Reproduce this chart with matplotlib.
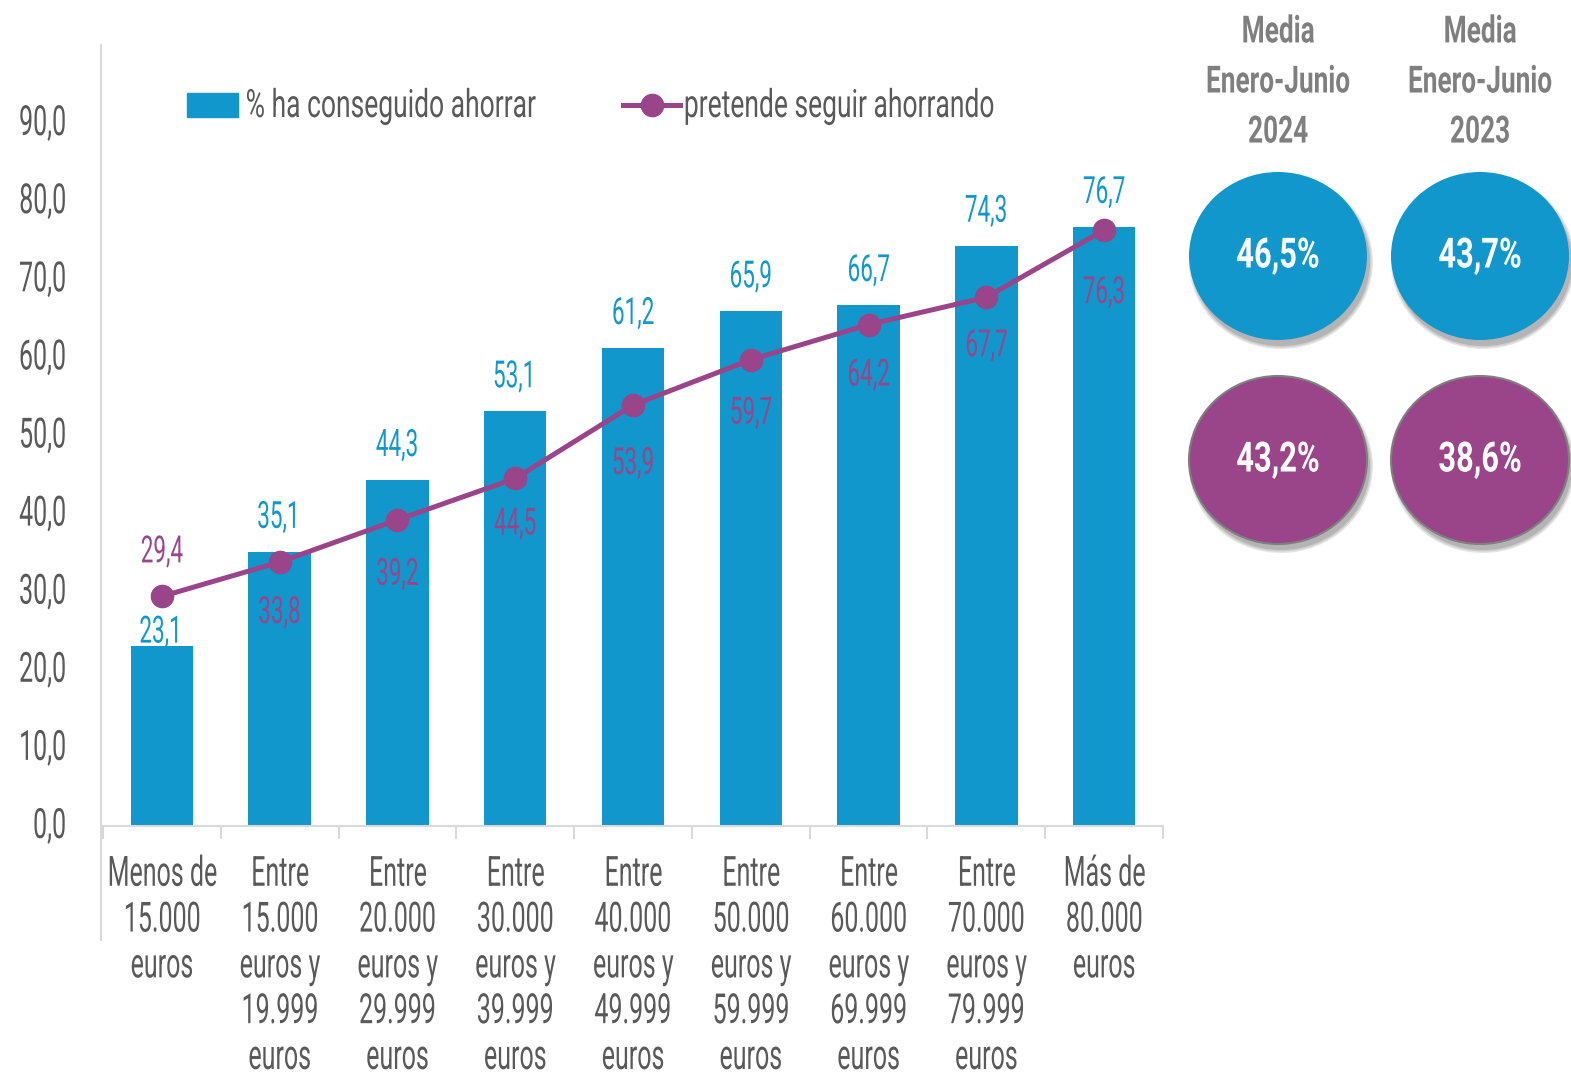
import numpy as np
import matplotlib
matplotlib.use("Agg")
import matplotlib.pyplot as plt
from matplotlib.patheffects import AbstractPathEffect
from matplotlib.transforms import Affine2D
from matplotlib.patches import Ellipse, Rectangle
from matplotlib.lines import Line2D

# ---------------- data ----------------
categories = [
    "Menos de\n15.000\neuros",
    "Entre\n15.000\neuros y\n19.999\neuros",
    "Entre\n20.000\neuros y\n29.999\neuros",
    "Entre\n30.000\neuros y\n39.999\neuros",
    "Entre\n40.000\neuros y\n49.999\neuros",
    "Entre\n50.000\neuros y\n59.999\neuros",
    "Entre\n60.000\neuros y\n69.999\neuros",
    "Entre\n70.000\neuros y\n79.999\neuros",
    "Más de\n80.000\neuros",
]
ahorrado = [23.1, 35.1, 44.3, 53.1, 61.2, 65.9, 66.7, 74.3, 76.7]
pretende = [29.4, 33.8, 39.2, 44.5, 53.9, 59.7, 64.2, 67.7, 76.3]
ytick_values = [0, 10, 20, 30, 40, 50, 60, 70, 80, 90]
ytick_labels = ["0,0", "10,0", "20,0", "30,0", "40,0", "50,0", "60,0", "70,0", "80,0", "90,0"]
series_names = ["% ha conseguido ahorrar", "pretende seguir ahorrando"]
media_titles = ["Media\nEnero-Junio\n2024", "Media\nEnero-Junio\n2023"]
media_ahorrado = ["46,5%", "43,7%"]
media_pretende = ["43,2%", "38,6%"]

# label offsets (pixels, style only)
bar_label_offsets = [3, 24, 24, 24, 24, 24, 24, 24, 24]
line_label_offsets = [34, -61, -65, -56, -69, -64, -61, -59, -73]

BLUE = "#1197CB"
PURPLE = "#9A4489"
GRAY = "#595959"
HGRAY = "#7F7F7F"
LGRAY = "#D9D9D9"

plt.rcParams["font.family"] = ["Roboto", "DejaVu Sans"]


class Condense(AbstractPathEffect):
    """Horizontally compress glyphs to mimic a condensed typeface."""

    def __init__(self, sx=0.6, anchor="center", dy=0):
        super().__init__()
        self.sx = sx
        self.anchor = anchor
        self.dy = dy

    def draw_path(self, renderer, gc, tpath, affine, rgbFace=None):
        ext = tpath.get_extents(affine)
        if self.anchor == "center":
            cx = (ext.x0 + ext.x1) / 2
        elif self.anchor == "right":
            cx = ext.x1
        else:
            cx = ext.x0
        t = affine + Affine2D().translate(-cx, 0).scale(self.sx, 1).translate(cx, self.dy)
        renderer.draw_path(gc, tpath, t, rgbFace)


def fmt(v):
    return f"{v:.1f}".replace(".", ",")


W, H = 1571, 1076
fig = plt.figure(figsize=(W / 100, H / 100), dpi=100)


def fx(px):
    return px / W


def fy(py):
    return 1 - py / H


ax = fig.add_axes([fx(103), fy(826), 1060 / W, 781 / H])
x = np.arange(len(categories))
ax.bar(x, ahorrado, width=0.53, color=BLUE, zorder=2)
ax.plot(x, pretende, color=PURPLE, lw=3.6, marker="o", ms=16, zorder=3)
ax.set_xlim(-0.5, len(categories) - 0.5)
ax.set_ylim(0, 100)
for s in ["top", "right", "left"]:
    ax.spines[s].set_visible(False)
ax.spines["bottom"].set_color(LGRAY)
ax.spines["bottom"].set_linewidth(1.5)

ax.set_yticks(ytick_values, ytick_labels)
ax.tick_params(axis="y", length=0, pad=26, labelsize=30, labelcolor=GRAY)
for lbl in ax.get_yticklabels():
    lbl.set_path_effects([Condense(0.6, "right", dy=4)])

ax.set_xticks(x, categories)
ax.tick_params(axis="x", which="major", length=0, pad=20, labelsize=30, labelcolor=GRAY)
ax.set_xticks(np.arange(-0.5, len(categories), 1), minor=True)
ax.tick_params(axis="x", which="minor", length=9, width=1.5, color=LGRAY)
for lbl in ax.get_xticklabels():
    lbl.set_path_effects([Condense(0.6, "center")])
    lbl.set_linespacing(1.15)

for i, v in enumerate(ahorrado):
    ax.annotate(fmt(v), (i, v), xytext=(0, bar_label_offsets[i]), textcoords="offset pixels",
                ha="center", va="baseline", fontsize=27, color=BLUE,
                path_effects=[Condense(0.6)])
for i, v in enumerate(pretende):
    ax.annotate(fmt(v), (i, v), xytext=(0, line_label_offsets[i]), textcoords="offset pixels",
                ha="center", va="baseline", fontsize=27, color=PURPLE,
                path_effects=[Condense(0.6)], zorder=4)

# left vertical rule extending down into category area
fig.add_artist(Line2D([fx(101), fx(101)], [fy(45), fy(940)], color=LGRAY, lw=1.5))

# legend (manual)
fig.add_artist(Rectangle((fx(187), fy(117)), 51 / W, 24 / H, color=BLUE, transform=fig.transFigure))
fig.text(fx(245), fy(117), series_names[0], ha="left", va="baseline", fontsize=28,
         color=GRAY, path_effects=[Condense(0.68, "left")])
fig.add_artist(Line2D([fx(623), fx(680)], [fy(105), fy(105)], color=PURPLE, lw=3.6))
fig.add_artist(Line2D([fx(652)], [fy(105)], color=PURPLE, marker="o", ms=16))
fig.text(fx(683), fy(117), series_names[1], ha="left", va="baseline", fontsize=28,
         color=GRAY, path_effects=[Condense(0.68, "left")])

# summary circles
col_x = [1278, 1480]
row_y = [256, 460]
ew, eh = 178, 168


def circle(cx, cy, color, edge):
    for k, a in enumerate([0.10, 0.10, 0.12]):
        fig.add_artist(Ellipse((fx(cx + 3), fy(cy + 6)), (ew + 6 - 3 * k) / W, (eh + 6 - 3 * k) / H,
                               color="black", alpha=a, lw=0, transform=fig.transFigure))
    fig.add_artist(Ellipse((fx(cx), fy(cy)), ew / W, eh / H, facecolor=color,
                           edgecolor=edge, lw=1.5 if edge != "none" else 0,
                           transform=fig.transFigure))


for j in range(2):
    fig.text(fx(col_x[j]), fy(82), media_titles[j], ha="center", va="center", fontsize=27,
             weight="bold", color=HGRAY, linespacing=1.45,
             path_effects=[Condense(0.7, "center")])
    circle(col_x[j], row_y[0], BLUE, "none")
    fig.text(fx(col_x[j]), fy(row_y[0]), media_ahorrado[j], ha="center", va="center",
             fontsize=30, weight="bold", color="white", path_effects=[Condense(0.74)])
    circle(col_x[j], row_y[1], PURPLE, "#7F7F7F")
    fig.text(fx(col_x[j]), fy(row_y[1]), media_pretende[j], ha="center", va="center",
             fontsize=30, weight="bold", color="white", path_effects=[Condense(0.74)])

fig.savefig("out.png", dpi=100)
